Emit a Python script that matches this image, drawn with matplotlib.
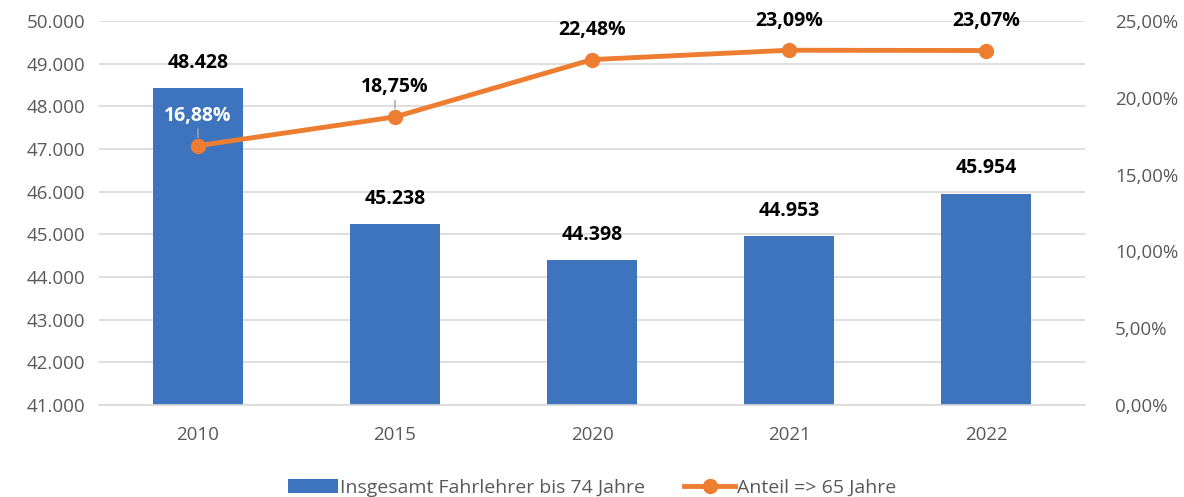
import matplotlib.pyplot as plt
from matplotlib.ticker import FuncFormatter

years = ['2010', '2015', '2020', '2021', '2022']
fahrlehrer = [48428, 45238, 44398, 44953, 45954]
anteil = [16.88, 18.75, 22.48, 23.09, 23.07]

blue = '#3e73bd'
orange = '#ed7d31'
grey = '#595959'

plt.rcParams['font.family'] = ['Open Sans', 'DejaVu Sans']

fig = plt.figure(figsize=(11.84, 4.97), dpi=100)
ax = fig.add_axes([0.084, 0.185, 0.832, 0.773])
ax2 = ax.twinx()

x = list(range(len(years)))
bars = ax.bar(x, fahrlehrer, width=0.46, color=blue, zorder=2,
              label='Insgesamt Fahrlehrer bis 74 Jahre')
ax.set_ylim(41000, 50000)
ax.set_xlim(-0.5, len(years) - 0.5)
ax.set_yticks(range(41000, 50001, 1000))
ax.yaxis.set_major_formatter(FuncFormatter(lambda v, p: f'{int(v):,}'.replace(',', '.')))
ax.set_xticks(x)
ax.set_xticklabels(years)
ax.grid(axis='y', color='#d9d9d9', linewidth=1.2, zorder=0)
ax.set_axisbelow(True)
for s in ['top', 'left', 'right']:
    ax.spines[s].set_visible(False)
ax.spines['bottom'].set_color('#d9d9d9')
ax.spines['bottom'].set_linewidth(1.2)
ax.tick_params(axis='both', length=0, labelsize=13.5, labelcolor=grey)
ax.tick_params(axis='x', pad=15)
ax.tick_params(axis='y', pad=10)

for xi, v in zip(x, fahrlehrer):
    ax.annotate(f'{v:,}'.replace(',', '.'), (xi, v), xytext=(0, 11),
                textcoords='offset points', ha='center', va='bottom',
                fontsize=14, fontweight='bold', color='black')

line, = ax2.plot(x, anteil, color=orange, linewidth=3.5, marker='o',
                 markersize=10, zorder=3, label='Anteil => 65 Jahre')
ax2.set_ylim(0, 25)
ax2.set_yticks(range(0, 26, 5))
ax2.yaxis.set_major_formatter(FuncFormatter(lambda v, p: f'{v:.2f}%'.replace('.', ',')))
for s in ['top', 'left', 'right', 'bottom']:
    ax2.spines[s].set_visible(False)
ax2.tick_params(axis='y', length=0, labelsize=13.5, labelcolor=grey, pad=22)

for i, (xi, v) in enumerate(zip(x, anteil)):
    col = 'white' if i == 0 else 'black'
    arrow = dict(arrowstyle='-', color='#a6a6a6', lw=1, shrinkA=0, shrinkB=6) if i < 2 else None
    ax2.annotate(f'{v:.2f}%'.replace('.', ','), (xi, v), xytext=(0, 14),
                 textcoords='offset points', ha='center', va='bottom',
                 fontsize=14, fontweight='bold', color=col, arrowprops=arrow)

fig.legend(handles=[bars, line], loc='lower center', ncol=2, frameon=False,
           fontsize=14, labelcolor=grey, bbox_to_anchor=(0.5, -0.035),
           handlelength=2.6, handletextpad=0.1, columnspacing=2)

fig.savefig('out.png', dpi=100)
